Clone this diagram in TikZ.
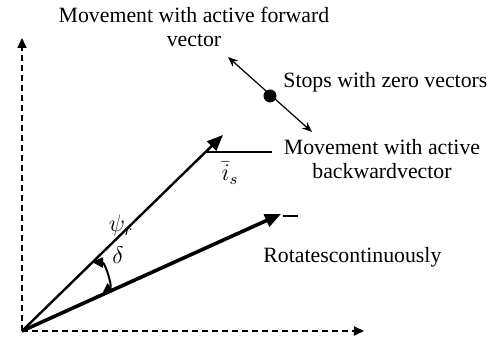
\documentclass[tikz,border=0pt]{standalone}
\usepackage{fontspec}
\setmainfont{Liberation Serif}
\usepackage{tikz}
\usetikzlibrary{arrows.meta, positioning}

\tikzset{
    axis/.style={line width=0.9pt, dashed, dash pattern=on 3pt off 2pt, -{Triangle[length=5pt, width=4.5pt]}},
    label text/.style={font=\fontsize{10.9}{12}\selectfont, inner sep=0pt, align=center},
    math text/.style={font=\fontsize{11.5}{12}\selectfont, inner sep=0pt}
}

\begin{document}
\begin{tikzpicture}[>=Stealth, x=0.5pt, y=-0.5pt]
    \useasboundingbox (0,0) rectangle (495,340);

    % Reference frame
    \coordinate (O) at (22,331);
    \coordinate (Yend) at (22,38);
    \coordinate (Xend) at (364,331);
    \draw[axis] (O) -- (Yend);
    \draw[axis] (O) -- (Xend);

    % Stator current vector and flux vector
    \coordinate (isTip) at (223,135);
    \coordinate (psiTip) at (281,214);
    \draw[line width=1.2pt, -{Triangle[length=8pt, width=6.5pt]}] (O) -- (isTip);
    \draw[line width=1.8pt, -{Triangle[length=8pt, width=6.5pt]}] (O) -- (psiTip);

    % Reference lines beside the tips
    \coordinate (isL) at (207,152);
    \coordinate (isR) at (272,152);
    \draw[line width=0.6pt] (isL) -- (isR);
    \coordinate (psiL) at (283,216);
    \coordinate (psiR) at (298,216);
    \draw[line width=0.6pt] (psiL) -- (psiR);

    % Zero vector point with forward / backward motion
    \coordinate (zero) at (270,96);
    \coordinate (fwd) at (228,57);
    \coordinate (bwd) at (312,132);
    \draw[line width=0.6pt, <->, >={Stealth[length=5pt, width=4pt]}] (fwd) -- (bwd);
    \fill (zero) circle (6.5);

    % Load angle
    \coordinate (angA) at (102,294);
    \coordinate (angB) at (92,262);
    \draw[line width=1pt, {Triangle[length=5.5pt, width=5pt]}-{Triangle[length=5.5pt, width=5pt]}] (angA) to[bend right=70] (angB);

    % Labels
    \node[math text] (is) at (230,173) {$\bar{i}_s$};
    \node[math text] (psi) at (121,226) {$\psi_r$};
    \node[math text] (delta) at (118,255) {$\delta$};

    \node[label text, anchor=base] (forward) at (194,47) {Movement with active forward\\vector};
    \node[label text, anchor=base west] (stops) at (283,88) {Stops with zero vectors};
    \node[label text, anchor=base] (backward) at (382,179) {Movement with active\\backwardvector};
    \node[label text, anchor=base west] (rotates) at (263,263) {Rotatescontinuously};
\end{tikzpicture}
\end{document}
